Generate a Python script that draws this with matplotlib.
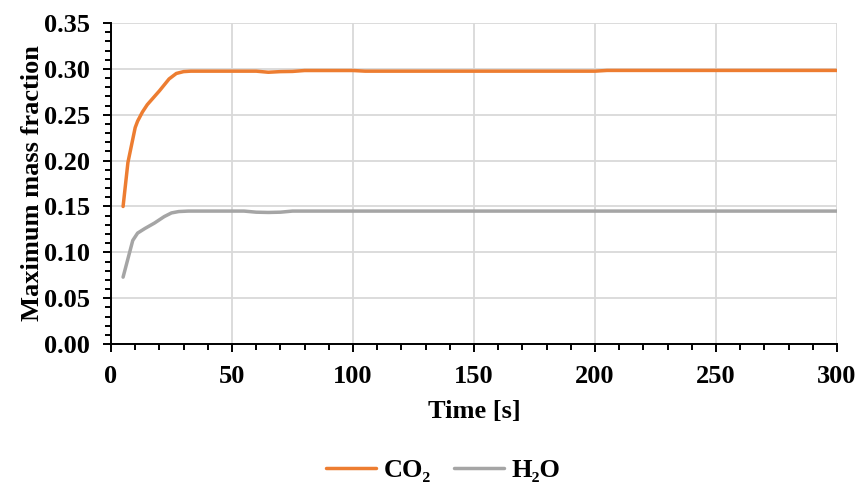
import matplotlib.pyplot as plt
from matplotlib.ticker import MultipleLocator, FormatStrFormatter

# values
time_co2 = [5, 7, 10, 11, 13, 15, 20, 24, 27, 30, 33, 40, 50, 60, 65, 70, 75, 80, 90, 100, 105,
            150, 200, 205, 250, 300]
co2 = [0.150, 0.198, 0.236, 0.243, 0.253, 0.261, 0.276, 0.289, 0.295, 0.297, 0.2975, 0.2975,
       0.2975, 0.2975, 0.2963, 0.297, 0.2972, 0.2982, 0.2982, 0.2982, 0.2975,
       0.2975, 0.2975, 0.2983, 0.2983, 0.2983]

time_h2o = [5, 7, 9, 11, 14, 18, 22, 25, 28, 32, 40, 50, 55, 60, 65, 70, 75, 80, 100, 150, 200,
            250, 300]
h2o = [0.073, 0.093, 0.113, 0.121, 0.126, 0.132, 0.139, 0.143, 0.1445, 0.145, 0.145, 0.145,
       0.145, 0.1438, 0.1435, 0.1438, 0.145, 0.145, 0.145, 0.145, 0.145, 0.145, 0.145]

labels = ['CO₂', 'H₂O']
colors = ['#ED7D31', '#A5A5A5']

plt.rcParams['font.family'] = ['Liberation Serif', 'DejaVu Serif']
plt.rcParams['font.weight'] = 'bold'
fs = 19

fig = plt.figure(figsize=(8.57, 4.84), dpi=100)
ax = fig.add_axes([0.1295, 0.289, 0.8472, 0.6635])

ax.plot(time_co2, co2, color=colors[0], lw=2.5, label=labels[0], solid_capstyle='round')
ax.plot(time_h2o, h2o, color=colors[1], lw=2.5, label=labels[1], solid_capstyle='round')

ax.set_xlim(0, 300)
ax.set_ylim(0, 0.35)
ax.xaxis.set_major_locator(MultipleLocator(50))
ax.xaxis.set_minor_locator(MultipleLocator(10))
ax.yaxis.set_major_locator(MultipleLocator(0.05))
ax.yaxis.set_minor_locator(MultipleLocator(0.01))
ax.yaxis.set_major_formatter(FormatStrFormatter('%.2f'))

ax.grid(True, which='major', color='#D9D9D9', lw=1.3)
ax.set_axisbelow(True)
for s in ['top', 'right']:
    ax.spines[s].set_visible(False)
for s in ['left', 'bottom']:
    ax.spines[s].set_linewidth(1.4)

ax.tick_params(which='major', direction='out', length=6, width=1.4, labelsize=fs, pad=9)
ax.tick_params(which='minor', direction='out', length=4, width=1.4)
for lab in ax.get_xticklabels() + ax.get_yticklabels():
    lab.set_fontweight('bold')

ax.set_xlabel('Time [s]', fontsize=fs, fontweight='bold', labelpad=9)
ax.set_ylabel('Maximum mass fraction', fontsize=fs, fontweight='bold', labelpad=0)

fig.legend(loc='center', bbox_to_anchor=(0.5175, 0.028), ncol=2, frameon=False,
           prop={'size': fs, 'weight': 'bold'}, handlelength=1.9, columnspacing=0.85,
           handletextpad=0.3)

fig.savefig('out.png', dpi=100)
